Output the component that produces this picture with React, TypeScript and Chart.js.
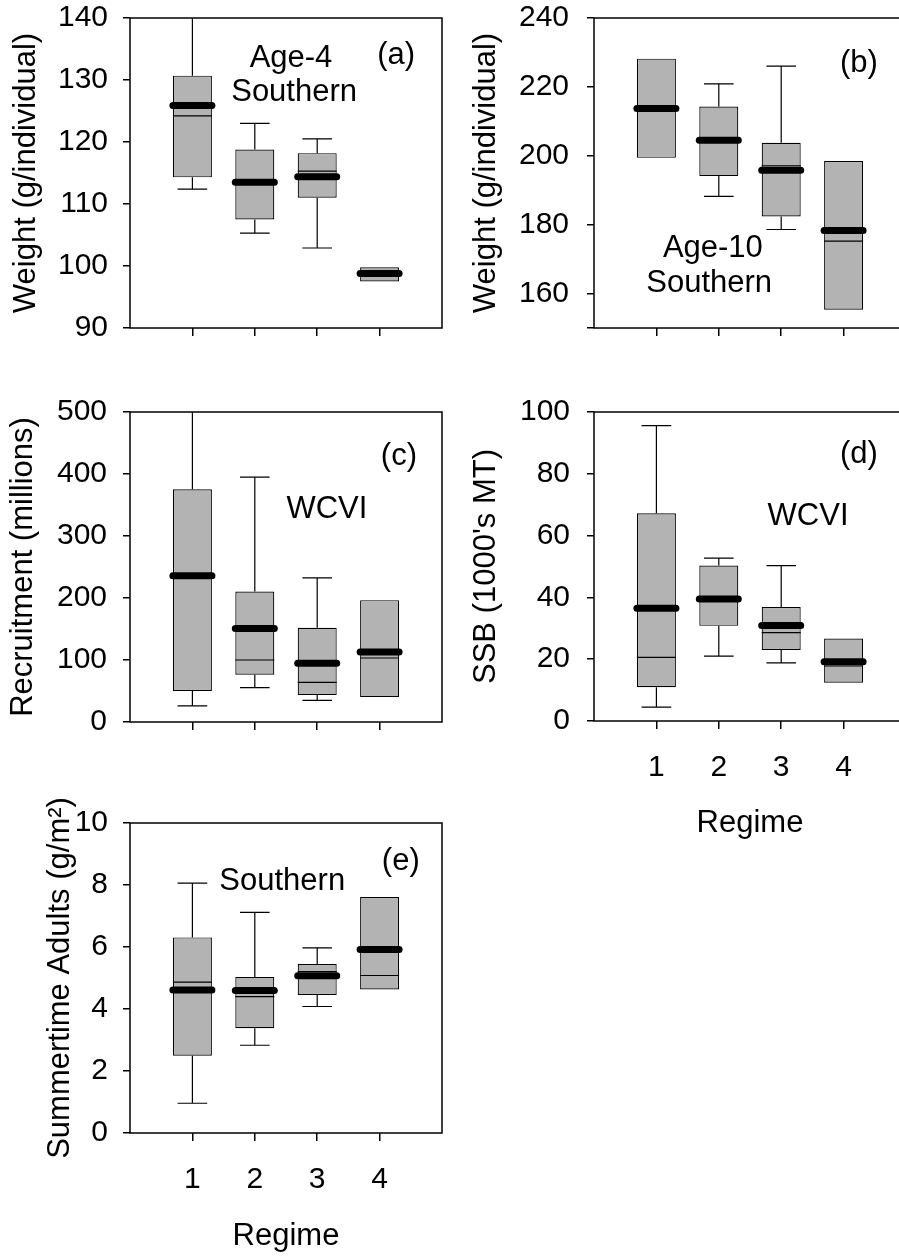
import React, { useEffect, useRef } from 'react';
import { Chart, registerables } from 'chart.js';

Chart.register(...registerables);

const FONT = "'Liberation Sans', Arial, Helvetica, sans-serif";

// ---- shared categories ----
const regimeLabels = ['1', '2', '3', '4'];
const regimePositions = [1, 2, 3, 4];

// ---- (a) Age-4 Southern weight (g/individual) ----
const age4Q1 = [114.3, 107.5, 111.0, 97.5];
const age4Q3 = [130.7, 118.8, 118.2, 99.8];
const age4Median = [124.2, 113.5, 115.3, 98.8];
const age4Mean = [125.9, 113.5, 114.4, 98.8];
const age4Min = [112.4, 105.3, 102.9, null];
const age4Max = [145.0, 123.0, 120.5, null];
const age4Ticks = [90, 100, 110, 120, 130, 140];

// ---- (b) Age-10 Southern weight (g/individual) ----
const age10Q1 = [199.4, 194.1, 182.4, 155.3];
const age10Q3 = [228.2, 214.3, 203.8, 198.5];
const age10Median = [213.7, 204.5, 197.1, 175.2];
const age10Mean = [213.7, 204.5, 195.8, 178.3];
const age10Min = [null, 188.2, 178.6, null];
const age10Max = [null, 220.9, 226.0, null];
const age10Ticks = [150, 160, 180, 200, 220, 240];

// ---- (c) WCVI recruitment (millions) ----
const recQ1 = [50, 76.3, 43.4, 40.2];
const recQ3 = [375.5, 210.5, 152, 196.5];
const recMedian = [236, 100, 64, 103.2];
const recMean = [236, 150.7, 94.6, 113];
const recMin = [26, 55.3, 35, null];
const recMax = [520, 395, 232.6, null];
const recTicks = [0, 100, 200, 300, 400, 500];

// ---- (d) WCVI SSB (1000's MT) ----
const ssbQ1 = [10.9, 30.8, 23.0, 12.4];
const ssbQ3 = [67.2, 50.3, 36.9, 26.7];
const ssbMedian = [20.6, 39.5, 28.6, 17.8];
const ssbMean = [36.5, 39.5, 30.9, 19.2];
const ssbMin = [4.5, 21.0, 18.8, null];
const ssbMax = [95.6, 52.7, 50.3, null];
const ssbTicks = [0, 20, 40, 60, 80, 100];

// ---- (e) Southern summertime adults (g/m2) ----
const adultQ1 = [2.49, 3.38, 4.45, 4.63];
const adultQ3 = [6.31, 5.03, 5.45, 7.61];
const adultMedian = [4.87, 4.4, 5.21, 5.08];
const adultMean = [4.61, 4.6, 5.07, 5.92];
const adultMin = [0.96, 2.83, 4.08, null];
const adultMax = [8.06, 7.12, 5.97, null];
const adultTicks = [0, 2, 4, 6, 8, 10];

const TICK_FONT = 30;
const TICK_LINE = TICK_FONT * 1.2;

type Annot = { text: string; fx: number; fy: number };
type Spec = {
  left: number; plotTop: number; plotHeight: number; width: number;
  q1: number[]; q3: number[]; median: number[]; mean: number[];
  min: (number | null)[]; max: (number | null)[];
  yMin: number; yMax: number; yTicks: number[]; yHidden: number[];
  yTitle: string; yTitleOffset: number; yTickPad: number;
  showX: boolean; xAxisHeight: number;
  annots: Annot[];
};

const panels: Spec[] = [
  {
    left: 0, plotTop: 18, plotHeight: 310, width: 450,
    q1: age4Q1, q3: age4Q3, median: age4Median, mean: age4Mean, min: age4Min, max: age4Max,
    yMin: 90, yMax: 140, yTicks: age4Ticks, yHidden: [],
    yTitle: 'Weight (g/individual)', yTitleOffset: -104, yTickPad: 15,
    showX: false, xAxisHeight: 40,
    annots: [
      { text: 'Age-4', fx: 0.516, fy: 0.129 },
      { text: 'Southern', fx: 0.526, fy: 0.239 },
      { text: '(a)', fx: 0.853, fy: 0.122 },
    ],
  },
  {
    left: 464, plotTop: 18, plotHeight: 310, width: 450,
    q1: age10Q1, q3: age10Q3, median: age10Median, mean: age10Mean, min: age10Min, max: age10Max,
    yMin: 150, yMax: 240, yTicks: age10Ticks, yHidden: [150],
    yTitle: 'Weight (g/individual)', yTitleOffset: -108, yTickPad: 18,
    showX: false, xAxisHeight: 40,
    annots: [
      { text: '(b)', fx: 0.849, fy: 0.146 },
      { text: 'Age-10', fx: 0.381, fy: 0.743 },
      { text: 'Southern', fx: 0.369, fy: 0.856 },
    ],
  },
  {
    left: 0, plotTop: 412, plotHeight: 310, width: 450,
    q1: recQ1, q3: recQ3, median: recMedian, mean: recMean, min: recMin, max: recMax,
    yMin: 0, yMax: 500, yTicks: recTicks, yHidden: [],
    yTitle: 'Recruitment (millions)', yTitleOffset: -107, yTickPad: 16,
    showX: false, xAxisHeight: 40,
    annots: [
      { text: '(c)', fx: 0.862, fy: 0.142 },
      { text: 'WCVI', fx: 0.631, fy: 0.313 },
    ],
  },
  {
    left: 464, plotTop: 412, plotHeight: 309, width: 450,
    q1: ssbQ1, q3: ssbQ3, median: ssbMedian, mean: ssbMean, min: ssbMin, max: ssbMax,
    yMin: 0, yMax: 100, yTicks: ssbTicks, yHidden: [],
    yTitle: "SSB (1000's MT)", yTitleOffset: -108, yTickPad: 17,
    showX: true, xAxisHeight: 121,
    annots: [
      { text: '(d)', fx: 0.849, fy: 0.139 },
      { text: 'WCVI', fx: 0.686, fy: 0.339 },
    ],
  },
  {
    left: 0, plotTop: 823, plotHeight: 310, width: 450,
    q1: adultQ1, q3: adultQ3, median: adultMedian, mean: adultMean, min: adultMin, max: adultMax,
    yMin: 0, yMax: 10, yTicks: adultTicks, yHidden: [],
    yTitle: 'Summertime Adults (g/m²)', yTitleOffset: -70, yTickPad: 15,
    showX: true, xAxisHeight: 122,
    annots: [
      { text: '(e)', fx: 0.868, fy: 0.123 },
      { text: 'Southern', fx: 0.488, fy: 0.19 },
    ],
  },
];

const boxPlugin = {
  id: 'boxExtras',
  afterDatasetsDraw(chart: any) {
    const spec: Spec = chart.options.plugins.boxExtras.spec;
    const { ctx, chartArea } = chart;
    const ys = chart.scales.y;
    const meta = chart.getDatasetMeta(0);
    ctx.save();
    ctx.beginPath();
    ctx.rect(chartArea.left, chartArea.top, chartArea.right - chartArea.left, chartArea.bottom - chartArea.top);
    ctx.clip();
    ctx.strokeStyle = '#000';
    meta.data.forEach((bar: any, i: number) => {
      const { x, width } = bar.getProps(['x', 'width'], true);
      const l = x - width / 2;
      const r = x + width / 2;
      const cap = width * 0.38;
      ctx.lineCap = 'butt';
      ctx.lineWidth = 1.2;
      const hi = spec.max[i];
      const lo = spec.min[i];
      if (hi != null) {
        const y0 = ys.getPixelForValue(spec.q3[i]);
        const y1 = ys.getPixelForValue(hi);
        ctx.beginPath();
        ctx.moveTo(x, y0); ctx.lineTo(x, y1);
        ctx.moveTo(x - cap, y1); ctx.lineTo(x + cap, y1);
        ctx.stroke();
      }
      if (lo != null) {
        const y0 = ys.getPixelForValue(spec.q1[i]);
        const y1 = ys.getPixelForValue(lo);
        ctx.beginPath();
        ctx.moveTo(x, y0); ctx.lineTo(x, y1);
        ctx.moveTo(x - cap, y1); ctx.lineTo(x + cap, y1);
        ctx.stroke();
      }
      const ym = ys.getPixelForValue(spec.median[i]);
      ctx.beginPath();
      ctx.moveTo(l, ym); ctx.lineTo(r, ym);
      ctx.stroke();
      const ya = ys.getPixelForValue(spec.mean[i]);
      ctx.lineWidth = 7;
      ctx.lineCap = 'round';
      ctx.beginPath();
      ctx.moveTo(l, ya); ctx.lineTo(r, ya);
      ctx.stroke();
    });
    ctx.restore();
  },
  afterDraw(chart: any) {
    const spec: Spec = chart.options.plugins.boxExtras.spec;
    const { ctx, chartArea } = chart;
    const w = chartArea.right - chartArea.left;
    const h = chartArea.bottom - chartArea.top;
    ctx.save();
    ctx.strokeStyle = '#000';
    ctx.lineWidth = 1.5;
    ctx.strokeRect(chartArea.left, chartArea.top, w, h);
    ctx.fillStyle = '#000';
    ctx.font = `31px ${FONT}`;
    ctx.textAlign = 'center';
    ctx.textBaseline = 'middle';
    spec.annots.forEach((a) => {
      ctx.fillText(a.text, chartArea.left + a.fx * w, chartArea.top + a.fy * h);
    });
    ctx.translate(chartArea.left + spec.yTitleOffset, chartArea.top + h / 2);
    ctx.rotate(-Math.PI / 2);
    ctx.fillText(spec.yTitle, 0, 0);
    ctx.restore();
  },
};

function Panel({ spec }: { spec: Spec }) {
  const ref = useRef<HTMLCanvasElement | null>(null);
  // the y axis reserves half a label height plus its padding above the plot
  const topReserve = TICK_LINE / 2 + spec.yTickPad;
  const canvasTop = spec.plotTop - topReserve;
  const canvasHeight = Math.round(topReserve + spec.plotHeight + spec.xAxisHeight);
  useEffect(() => {
    const canvas = ref.current;
    if (!canvas) return;
    const chart = new Chart(canvas, {
      type: 'bar',
      data: {
        datasets: [
          {
            data: spec.q1.map((lo, i) => ({ x: regimePositions[i], y: [lo, spec.q3[i]] })) as any,
            backgroundColor: '#b3b3b3',
            borderColor: '#000',
            borderWidth: 1.2,
            borderSkipped: false,
            categoryPercentage: 1,
            barPercentage: 0.625,
          },
        ],
      },
      options: {
        responsive: false,
        animation: false,
        devicePixelRatio: 1,
        layout: { padding: { left: 0, top: 0, right: 8, bottom: 0 } },
        plugins: {
          legend: { display: false },
          tooltip: { enabled: false },
          boxExtras: { spec },
        } as any,
        scales: {
          x: {
            type: 'linear',
            min: 0,
            max: 5,
            offset: false,
            afterBuildTicks: (s: any) => {
              s.ticks = regimePositions.map((v) => ({ value: v }));
            },
            afterFit: (s: any) => {
              s.height = spec.xAxisHeight;
            },
            grid: { offset: false, drawOnChartArea: false, drawTicks: true, tickLength: 8, color: '#000', lineWidth: 1.5 },
            border: { display: false },
            ticks: {
              display: spec.showX,
              color: '#000',
              padding: 21,
              font: { size: TICK_FONT, family: FONT },
              callback: (v: any) => {
                const idx = regimePositions.indexOf(Number(v));
                return idx >= 0 ? regimeLabels[idx] : '';
              },
            },
            title: {
              display: spec.showX,
              text: 'Regime',
              color: '#000',
              padding: 0,
              font: { size: 31, family: FONT, lineHeight: 1.2 },
            },
          },
          y: {
            type: 'linear',
            min: spec.yMin,
            max: spec.yMax,
            afterBuildTicks: (s: any) => {
              s.ticks = spec.yTicks.map((v) => ({ value: v }));
            },
            afterFit: (s: any) => {
              s.width = 130;
            },
            grid: { drawOnChartArea: false, drawTicks: true, tickLength: 7, color: '#000', lineWidth: 1.5 },
            border: { display: false },
            ticks: {
              color: '#000',
              padding: spec.yTickPad,
              font: { size: TICK_FONT, family: FONT, lineHeight: 1.2 },
              callback: (v: any) => (spec.yHidden.includes(Number(v)) ? '' : String(v)),
            },
          },
        },
      } as any,
      plugins: [boxPlugin],
    });
    return () => chart.destroy();
  }, [spec]);
  return (
    <canvas
      ref={ref}
      width={spec.width}
      height={canvasHeight}
      style={{ position: 'absolute', left: spec.left, top: canvasTop, width: spec.width, height: canvasHeight }}
    />
  );
}

export default function App() {
  return (
    <div
      style={{
        position: 'fixed',
        left: 0,
        top: 0,
        width: 899,
        height: 1258,
        overflow: 'hidden',
        background: '#fff',
      }}
    >
      {panels.map((p, i) => (
        <Panel key={i} spec={p} />
      ))}
    </div>
  );
}
